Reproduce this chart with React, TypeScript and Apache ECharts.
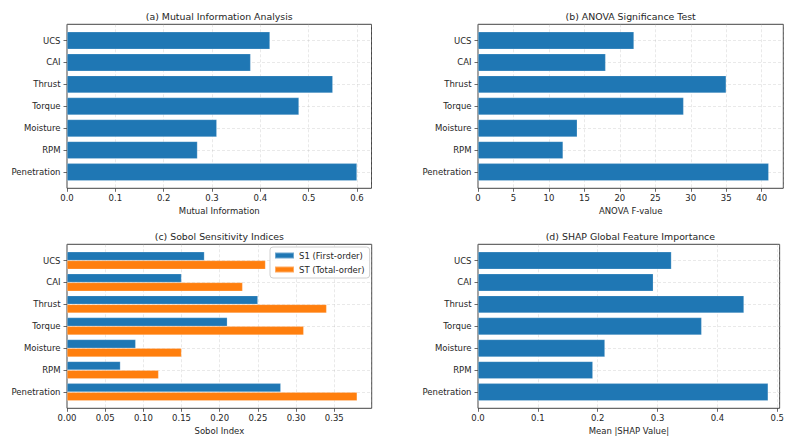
import React, { useEffect, useRef } from "react";
import * as echarts from "echarts";

const features = ["UCS", "CAI", "Thrust", "Torque", "Moisture", "RPM", "Penetration"];
const miValues = [0.42, 0.38, 0.55, 0.48, 0.31, 0.27, 0.6];
const anovaValues = [22, 18, 35, 29, 14, 12, 41];
const sobolS1 = [0.18, 0.15, 0.25, 0.21, 0.09, 0.07, 0.28];
const sobolST = [0.26, 0.23, 0.34, 0.31, 0.15, 0.12, 0.38];
const shapValues = [0.32, 0.29, 0.44, 0.37, 0.21, 0.19, 0.48];

const miTicks = [0, 0.1, 0.2, 0.3, 0.4, 0.5, 0.6];
const anovaTicks = [0, 5, 10, 15, 20, 25, 30, 35, 40];
const sobolTicks = [0, 0.05, 0.1, 0.15, 0.2, 0.25, 0.3, 0.35];
const shapTicks = [0, 0.1, 0.2, 0.3, 0.4, 0.5];

const BLUE = "#1f77b4";
const ORANGE = "#ff7f0e";
const TEXT = "#262626";
const FONT = "DejaVu Sans";
const LABEL_SIZE = 8.5;
const TITLE_SIZE = 9.4;

type Panel = {
  left: number;
  top: number;
  width: number;
  height: number;
  title: string;
  xName: string;
  xMax: number;
  ticks: number[];
  decimals: number;
};

const panels: Panel[] = [
  { left: 67, top: 24.3, width: 304.5, height: 164, title: "(a) Mutual Information Analysis", xName: "Mutual Information", xMax: 0.63, ticks: miTicks, decimals: 1 },
  { left: 478, top: 24.3, width: 305.3, height: 164, title: "(b) ANOVA Significance Test", xName: "ANOVA F-value", xMax: 43.05, ticks: anovaTicks, decimals: 0 },
  { left: 67, top: 244.3, width: 304.7, height: 164, title: "(c) Sobol Sensitivity Indices", xName: "Sobol Index", xMax: 0.399, ticks: sobolTicks, decimals: 2 },
  { left: 478, top: 244.3, width: 304.7, height: 164, title: "(d) SHAP Global Feature Importance", xName: "Mean |SHAP Value|", xMax: 0.504, ticks: shapTicks, decimals: 1 },
];

export default function App() {
  const ref = useRef<HTMLDivElement>(null);
  useEffect(() => {
    if (!ref.current) return;
    const chart = echarts.init(ref.current, undefined, { renderer: "svg" });
    const grids: any[] = [];
    const xAxes: any[] = [];
    const yAxes: any[] = [];
    const series: any[] = [];
    const graphics: any[] = [];
    const gridColor = "rgba(176,176,176,0.35)";

    panels.forEach((p, i) => {
      const u = p.height / 7.48;
      const frameIdx = i * 2;
      const barIdx = i * 2 + 1;
      grids.push({
        left: p.left, top: p.top, width: p.width, height: p.height,
        show: true, borderColor: "#444", borderWidth: 1, backgroundColor: "transparent", z: 0,
      });
      grids.push({
        left: p.left, top: p.top + 0.74 * u, width: p.width, height: 6 * u,
        show: false,
      });
      const tickSet = p.ticks;
      xAxes.push({
        type: "value", gridIndex: frameIdx, min: 0, max: p.xMax,
        interval: tickSet[1] - tickSet[0],
        axisLine: { show: false },
        axisTick: { show: true, length: 3.5, lineStyle: { color: "#444", width: 0.8 } },
        axisLabel: {
          color: TEXT, fontFamily: FONT, fontSize: LABEL_SIZE, margin: 5,
          showMaxLabel: false,
          formatter: (v: number) => {
            const hit = tickSet.find((t) => Math.abs(t - v) < 1e-9);
            return hit === undefined ? "" : hit.toFixed(p.decimals);
          },
        },
        splitLine: { show: true, lineStyle: { color: gridColor, type: [3, 2], width: 0.8 } },
        name: p.xName, nameLocation: "middle", nameGap: 18,
        nameTextStyle: { color: TEXT, fontFamily: FONT, fontSize: LABEL_SIZE },
      });
      xAxes.push({
        type: "value", gridIndex: barIdx, min: 0, max: p.xMax, show: false,
        splitLine: { show: false },
      });
      yAxes.push({ type: "value", gridIndex: frameIdx, min: 0, max: 1, show: false, splitLine: { show: false } });
      yAxes.push({
        type: "category", gridIndex: barIdx, data: features, inverse: true, boundaryGap: false,
        axisLine: { show: false },
        axisTick: { show: true, length: 3.5, lineStyle: { color: "#444", width: 0.8 } },
        axisLabel: { color: TEXT, fontFamily: FONT, fontSize: LABEL_SIZE, margin: 6.5, interval: 0 },
        splitLine: { show: true, lineStyle: { color: gridColor, type: [3, 2], width: 0.8 } },
      });
      graphics.push({
        type: "text", x: p.left + p.width / 2, y: p.top - 8,
        style: { text: p.title, fill: TEXT, font: `${TITLE_SIZE}px "${FONT}"`, textAlign: "center", textVerticalAlign: "middle" },
      });
      const edge = { borderColor: "rgba(255,255,255,0.35)", borderWidth: 0.6 };
      if (i === 2) {
        series.push({
          type: "bar", name: "S1 (First-order)", xAxisIndex: barIdx, yAxisIndex: barIdx,
          data: sobolS1, barWidth: 0.4 * u, barGap: "0%", clip: false,
          itemStyle: { color: BLUE, ...edge }, z: 3,
        });
        series.push({
          type: "bar", name: "ST (Total-order)", xAxisIndex: barIdx, yAxisIndex: barIdx,
          data: sobolST, barWidth: 0.4 * u, barGap: "0%", clip: false,
          itemStyle: { color: ORANGE, ...edge }, z: 3,
        });
      } else {
        const vals = i === 0 ? miValues : i === 1 ? anovaValues : shapValues;
        series.push({
          type: "bar", xAxisIndex: barIdx, yAxisIndex: barIdx,
          data: vals, barWidth: 0.8 * u, clip: false,
          itemStyle: { color: BLUE, ...edge }, z: 3,
        });
      }
    });

    chart.setOption({
      animation: false,
      backgroundColor: "#ffffff",
      grid: grids,
      xAxis: xAxes,
      yAxis: yAxes,
      series,
      graphic: graphics,
      legend: {
        data: ["S1 (First-order)", "ST (Total-order)"],
        orient: "vertical", left: 270, top: 247,
        itemWidth: 19, itemHeight: 6, itemGap: 5,
        padding: [4, 5, 4, 4],
        icon: "rect",
        borderColor: "#d0d0d0", borderWidth: 1, borderRadius: 3,
        backgroundColor: "rgba(255,255,255,0.85)",
        textStyle: { color: TEXT, fontFamily: FONT, fontSize: LABEL_SIZE },
      },
    });
    return () => chart.dispose();
  }, []);
  return <div ref={ref} style={{ position: "fixed", left: 0, top: 0, width: 787, height: 439 }} />;
}
